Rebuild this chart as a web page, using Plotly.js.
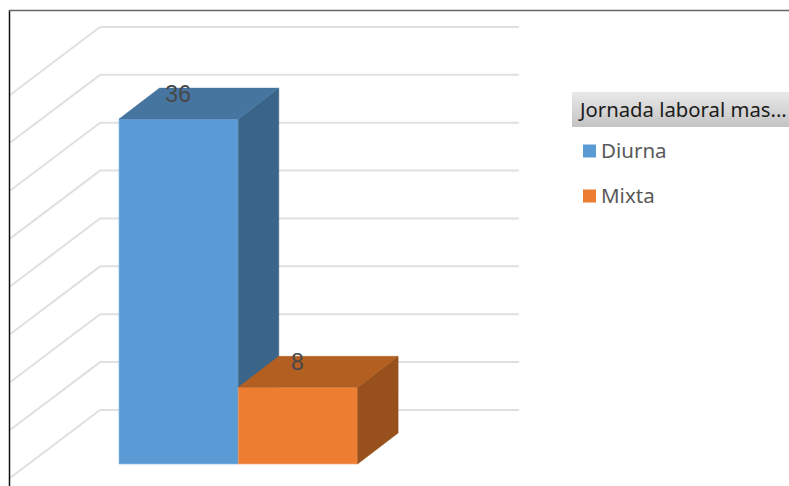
<!DOCTYPE html>
<html>
<head>
<meta charset="utf-8">
<script src="https://cdn.plot.ly/plotly-3.0.1.min.js"></script>
<style>html,body{margin:0;padding:0;background:#fff;overflow:hidden}#c{width:789px;height:486px}</style>
</head>
<body>
<div id="c"></div>
<script>
// Data
const categories = ["Diurna", "Mixta"];
const values = [36, 8];
const legendTitle = "Jornada laboral mas...";
const axisTicks = [0, 5, 10, 15, 20, 25, 30, 35, 40];

// Styles
const frontColors = ["#5B9BD5", "#ED7D31"];
const topColors = ["#4675A0", "#B35F22"];
const sideColors = ["#3A6588", "#98511C"];
const edgeColors = ["rgba(140,185,230,0.7)", "rgba(245,170,120,0.7)"];
const W = 789, H = 486;
const baseY = 464, pxPerUnit = 9.58;
const barLeft = 119, barW = 119.3, depthX = 40.5, depthY = 31;
const wallBaseY = 410, wallUnit = 9.575, wallLeft = 100, wallRight = 519, frameX = 10, wallSlope = 0.755;
const toVal = py => (baseY - py) / pxPerUnit;
const yRange = [toVal(H), toVal(0)];
const depthV = depthY / pxPerUnit;

const traces = [];
categories.forEach((name, i) => {
  const yref = i === 0 ? "y" : "y2";
  const x0 = barLeft + i * barW, x1 = x0 + barW, v = values[i];
  traces.push({type: "bar", name, x: [(x0 + x1) / 2], y: [v], width: [barW], yaxis: yref,
    marker: {color: frontColors[i], line: {color: edgeColors[i], width: 1}}, hoverinfo: "name+y"});
  traces.push({type: "scatter", mode: "lines", fill: "toself", yaxis: yref, showlegend: false,
    x: [x1, x1 + depthX, x1 + depthX, x1, x1], y: [0, depthV, v + depthV, v, 0],
    fillcolor: sideColors[i], line: {color: sideColors[i], width: 0.5}, hoverinfo: "skip"});
  traces.push({type: "scatter", mode: "lines", fill: "toself", yaxis: yref, showlegend: false,
    x: [x0, x1, x1 + depthX, x0 + depthX, x0], y: [v, v, v + depthV, v + depthV, v],
    fillcolor: topColors[i], line: {color: topColors[i], width: 0.5}, hoverinfo: "skip"});
});
// data labels on top face
traces.push({type: "scatter", mode: "text", yaxis: "y2", showlegend: false, hoverinfo: "skip",
  x: categories.map((_, i) => barLeft + i * barW + barW / 2 - 0.5),
  y: values.map((v, i) => v + depthV - 0.85),
  text: values.map(String), textposition: "middle center",
  textfont: {family: "'Liberation Sans', sans-serif", size: 23, color: "#484848"}, cliponaxis: false});

const shapes = [];
// wall and side gridlines
axisTicks.forEach(t => {
  const py = wallBaseY - t * wallUnit;
  const path = [[frameX, py + (wallLeft - frameX) * wallSlope], [wallLeft, py], [wallRight, py]];
  for (let s = 0; s < 2; s++) {
    shapes.push({type: "line", layer: "below", xref: "x", yref: "y",
      x0: path[s][0], x1: path[s + 1][0], y0: toVal(path[s][1]), y1: toVal(path[s + 1][1]),
      line: {color: "#E0E0E0", width: 2}});
  }
});
// frame
shapes.push({type: "line", xref: "x", yref: "y", x0: 9.5, x1: 9.5, y0: toVal(10), y1: toVal(486), line: {color: "#111111", width: 1.5}});
shapes.push({type: "line", xref: "x", yref: "y", x0: 9, x1: 789, y0: toVal(10.5), y1: toVal(10.5), line: {color: "#666666", width: 1.5}});
// legend title gradient
const boxTop = 92, boxBottom = 127, boxLeft = 572;
for (let py = boxTop; py < boxBottom; py++) {
  const f = (py - boxTop) / (boxBottom - boxTop - 1);
  const g = Math.round(232 - f * (232 - 196));
  shapes.push({type: "rect", layer: "below", xref: "x", yref: "y", x0: boxLeft, x1: W, y0: toVal(py), y1: toVal(py + 1),
    line: {width: 0}, fillcolor: `rgb(${g},${g},${g})`});
}
// legend swatches
const legendY = [151, 196];
categories.forEach((c, i) => {
  shapes.push({type: "rect", xref: "x", yref: "y", x0: 583, x1: 596, y0: toVal(legendY[i] - 6.5), y1: toVal(legendY[i] + 6.5),
    line: {width: 0}, fillcolor: frontColors[i]});
});

const legendFont = "'Noto Sans', 'Open Sans', sans-serif";
const annotations = [{xref: "x", yref: "y", x: 575.5, y: toVal(109), xanchor: "left", yanchor: "middle", showarrow: false,
  text: legendTitle, font: {family: legendFont, size: 20.3, color: "#1c1c1c"}}];
categories.forEach((c, i) => annotations.push({xref: "x", yref: "y", x: 599, y: toVal(legendY[i] - 1), xanchor: "left", yanchor: "middle",
  showarrow: false, text: c, font: {family: legendFont, size: 20.5, color: "#595959"}}));

const hiddenY = {range: yRange, visible: false, fixedrange: true, showgrid: false, zeroline: false};
Plotly.newPlot("c", traces, {
  width: W, height: H, margin: {l: 0, r: 0, t: 0, b: 0},
  paper_bgcolor: "#fff", plot_bgcolor: "rgba(0,0,0,0)", showlegend: false, barmode: "overlay",
  xaxis: {range: [0, W], visible: false, fixedrange: true, showgrid: false, zeroline: false},
  yaxis: hiddenY,
  yaxis2: Object.assign({}, hiddenY, {overlaying: "y"}),
  shapes, annotations
}, {displayModeBar: false, staticPlot: true});
</script>
</body>
</html>
